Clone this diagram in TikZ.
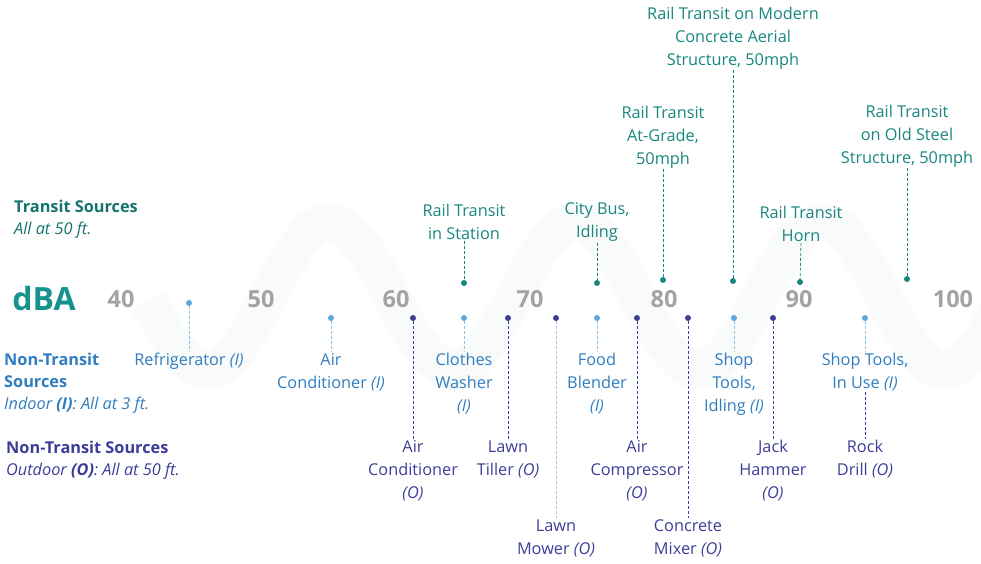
\documentclass[tikz,border=0pt]{standalone}
\usepackage{fontspec}
\setmainfont{Open Sans}
\begin{document}
\begin{tikzpicture}[x=1pt,y=-1pt,
  lbl/.style={align=center,inner sep=1pt,font=\fontsize{16.3}{23}\selectfont},
  tlbl/.style={lbl,text=tealc},
  ilbl/.style={lbl,text=indc},
  olbl/.style={lbl,text=outc},
  dot/.style={circle,inner sep=0pt,minimum size=6pt},
  tdot/.style={dot,fill=tealc},
  idot/.style={dot,fill=indd},
  odot/.style={dot,fill=outc},
  tcon/.style={densely dashed,tealc,line width=0.8pt},
  icon/.style={densely dashed,indd!70,line width=0.8pt},
  ocon/.style={densely dashed,outc,line width=0.8pt},
  num/.style={font=\fontsize{23.5}{25}\selectfont\bfseries,text=numc},
  leg/.style={anchor=west,align=left,inner sep=0pt,font=\fontsize{16.3}{22}\selectfont}]
\definecolor{tealc}{HTML}{18877F}
\definecolor{indc}{HTML}{2F7DC0}
\definecolor{indd}{HTML}{5AA8DE}
\definecolor{outc}{HTML}{3D3D99}
\definecolor{numc}{HTML}{A3A3A3}
\definecolor{wavec}{HTML}{F9FAFA}
\useasboundingbox (0,0) rectangle (981,563);
\begin{scope}
\clip (0,0) rectangle (981,563);
\draw[wavec,line width=38pt] plot[domain=148:1010,samples=220] (\x,{296+74*cos(1.46341*(\x-207))});
\end{scope}
% axis
\node[font=\fontsize{32}{34}\selectfont\bfseries,text=tealc!90!cyan] (dba) at (44,298) {dBA};
\foreach \v/\xx in {40/121,50/261,60/396,70/530,80/664,90/799,100/953}
  \node[num] (n\v) at (\xx,299) {\v};
% legend
\node[leg,text=tealc!85!black] (lt) at (14,219) {\textbf{Transit Sources}\\\textit{All at 50 ft.}};
\node[leg,text=indc] (li) at (4,383) {\textbf{Non-Transit}\\\textbf{Sources}\\\textit{Indoor \textbf{(I)}: All at 3 ft.}};
\node[leg,text=outc] (lo) at (6,460) {\textbf{Non-Transit Sources}\\\textit{Outdoor \textbf{(O)}: All at 50 ft.}};
% transit
\node[tdot] (d1) at (464,283) {};
\node[tlbl] (t1) at (464,222) {Rail Transit\\in Station};
\node[tdot] (d2) at (597,283) {};
\node[tlbl] (t2) at (597,222) {City Bus,\\Idling};
\node[tdot] (d3) at (663,280) {};
\node[tlbl] (t3) at (663,137) {Rail Transit\\At-Grade,\\50mph};
\node[tdot] (d4) at (733,281) {};
\node[tlbl] (t4) at (733,38) {Rail Transit on Modern\\Concrete Aerial\\Structure, 50mph};
\node[tdot] (d5) at (800,282) {};
\node[tlbl] (t5) at (801,224) {Rail Transit\\Horn};
\node[tdot] (d6) at (907,279) {};
\node[tlbl] (t6) at (907,136) {Rail Transit\\on Old Steel\\Structure, 50mph};
\foreach \i in {1,...,6} \draw[tcon] (t\i.south) -- (d\i);
% indoor
\node[idot] (e1) at (189,303) {};
\node[ilbl] (i1) at (189,361) {Refrigerator \textit{(I)}};
\node[idot] (e2) at (331,318) {};
\node[ilbl] (i2) at (331,372) {Air\\Conditioner \textit{(I)}};
\node[idot] (e3) at (464,318) {};
\node[ilbl] (i3) at (464,384) {Clothes\\Washer\\\textit{(I)}};
\node[idot] (e4) at (597,318) {};
\node[ilbl] (i4) at (597,384) {Food\\Blender\\\textit{(I)}};
\node[idot] (e5) at (734,318) {};
\node[ilbl] (i5) at (734,384) {Shop\\Tools,\\Idling \textit{(I)}};
\node[idot] (e6) at (865,318) {};
\node[ilbl] (i6) at (865,372) {Shop Tools,\\In Use \textit{(I)}};
\foreach \i in {1,...,6} \draw[icon] (e\i) -- (i\i.north);
% outdoor
\node[odot] (f1) at (413,318) {};
\node[olbl] (o1) at (413,471) {Air\\Conditioner\\\textit{(O)}};
\node[odot] (f2) at (508,318) {};
\node[olbl] (o2) at (508,459) {Lawn\\Tiller \textit{(O)}};
\node[odot] (f3) at (556,318) {};
\node[olbl] (o3) at (556,538) {Lawn\\Mower \textit{(O)}};
\node[odot] (f4) at (637,318) {};
\node[olbl] (o4) at (637,471) {Air\\Compressor\\\textit{(O)}};
\node[odot] (f5) at (688,318) {};
\node[olbl] (o5) at (688,538) {Concrete\\Mixer \textit{(O)}};
\node[odot] (f6) at (773,318) {};
\node[olbl] (o6) at (773,471) {Jack\\Hammer\\\textit{(O)}};
\node[olbl] (o7) at (865,459) {Rock\\Drill \textit{(O)}};
\foreach \i in {1,2,4,5,6} \draw[ocon] (f\i) -- (o\i.north);
\draw[densely dashed,outc!35,line width=0.8pt] (f3) -- (o3.north);
\draw[ocon] (i6.south) -- (o7.north);
\end{tikzpicture}
\end{document}
